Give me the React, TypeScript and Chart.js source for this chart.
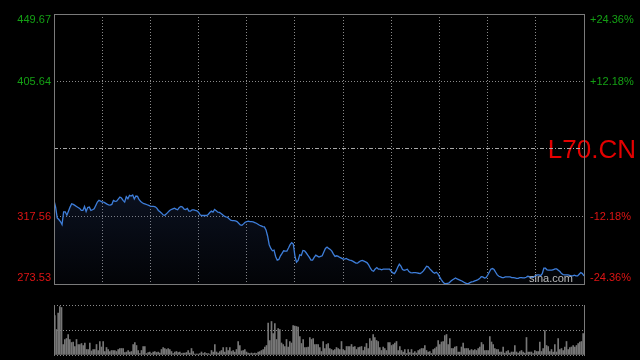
import React, { useEffect, useRef } from 'react';
import { Chart, registerables } from 'chart.js';

Chart.register(...registerables);

const prevClose = 361.6;
const priceTicks = [273.53, 317.56, 361.6, 405.64, 449.67];
const priceLabels = ['273.53', '317.56', '', '405.64', '449.67'];
const pctLabels = ['-24.36%', '-12.18%', '', '+12.18%', '+24.36%'];
const timeTicks = [0, 30, 60, 90, 120, 150, 180, 210, 240, 270, 300, 330];
const volumeTicks = [0, 50, 100];

// one price per trading minute (330 minutes)
const prices = [
  328.07, 323.69, 316.68, 315.59, 314.27, 312.3, 320.62, 320.62, 318.43, 321.06,
  323.69, 325.88, 325.44, 324.79, 324.13, 323.47, 322.81, 321.5, 321.5, 324.13,
  320.84, 323.47, 323.69, 321.5, 321.94, 322.6, 324.79, 326.97, 328.07, 327.63,
  326.97, 326.97, 326.32, 325.66, 325.22, 325.0, 325.44, 328.07, 327.41, 327.63,
  328.95, 330.26, 329.6, 328.07, 326.97, 330.48, 329.17, 331.36, 330.92, 331.57,
  328.95, 330.92, 330.7, 328.51, 327.41, 326.54, 325.88, 325.66, 325.22, 324.79,
  324.35, 324.13, 324.13, 323.91, 323.03, 321.5, 320.62, 319.75, 318.65, 318.43,
  319.31, 320.41, 321.5, 322.16, 322.6, 323.03, 322.38, 321.94, 323.47, 324.13,
  323.69, 322.38, 322.16, 322.81, 321.06, 321.06, 321.94, 321.94, 321.5, 321.28,
  320.41, 318.65, 318.22, 318.22, 318.22, 318.22, 318.87, 320.19, 321.06, 320.41,
  322.16, 321.28, 320.41, 320.19, 319.53, 318.65, 317.78, 317.34, 317.12, 316.03,
  315.15, 314.93, 314.93, 314.71, 314.27, 313.18, 312.08, 311.86, 312.74, 313.84,
  314.27, 314.49, 314.27, 314.27, 314.05, 313.62, 313.18, 312.52, 311.86, 311.43,
  310.99, 310.77, 308.8, 304.86, 299.16, 296.75, 295.22, 295.66, 291.5, 289.09,
  289.53, 291.93, 293.47, 295.22, 295.0, 295.0, 296.97, 299.16, 300.48, 299.6,
  291.93, 287.77, 288.87, 292.59, 292.15, 295.44, 295.22, 293.91, 292.37, 290.84,
  289.09, 289.09, 290.84, 292.37, 291.72, 291.06, 291.5, 291.93, 294.34, 296.75,
  297.63, 296.75, 296.1, 295.0, 293.03, 291.5, 291.93, 291.5, 290.84, 290.4,
  289.75, 289.75, 290.18, 289.53, 289.09, 288.87, 288.43, 287.77, 287.12, 287.12,
  287.99, 288.65, 288.87, 288.43, 287.99, 287.34, 285.8, 283.83, 282.3, 281.86,
  283.39, 284.27, 283.17, 283.17, 282.74, 283.17, 283.17, 283.17, 283.17, 283.17,
  281.86, 280.77, 280.33, 282.08, 284.49, 286.46, 285.15, 282.96, 282.52, 282.74,
  283.17, 281.64, 280.99, 280.77, 280.99, 280.99, 280.77, 280.55, 280.33, 280.99,
  282.08, 283.61, 285.15, 284.71, 283.39, 282.3, 281.2, 280.55, 281.2, 280.33,
  278.36, 276.61, 275.07, 273.98, 273.76, 273.98, 274.2, 275.29, 276.17, 276.82,
  277.48, 276.82, 276.39, 275.95, 275.51, 274.85, 274.2, 273.76, 273.76, 274.42,
  274.85, 275.07, 275.51, 275.95, 276.39, 277.04, 278.36, 278.14, 277.48, 277.7,
  279.23, 281.2, 283.17, 283.61, 282.96, 281.2, 279.45, 278.58, 278.14, 277.7,
  277.7, 278.14, 278.14, 278.14, 278.14, 277.7, 277.7, 277.48, 277.26, 277.26,
  277.7, 277.7, 277.48, 277.48, 277.92, 278.58, 278.36, 277.92, 277.92, 278.36,
  279.01, 279.45, 279.45, 279.01, 280.33, 283.83, 283.83, 282.74, 282.52, 282.52,
  282.52, 282.96, 283.39, 283.39, 282.52, 281.64, 280.33, 279.67, 279.45, 279.45,
  279.45, 279.23, 278.8, 278.8, 279.23, 278.8, 278.8, 279.89, 280.99, 280.33, 278.8,
];

// volume bars, relative to panel maximum (100)
const volumes = [
  79, 51, 84, 97, 95, 21, 31, 33, 41, 31, 25, 26, 17, 31, 21, 21, 23, 19, 24, 11,
  11, 24, 8, 11, 11, 21, 9, 27, 16, 27, 7, 15, 11, 7, 9, 9, 9, 7, 11, 13,
  13, 13, 5, 6, 9, 6, 7, 21, 25, 19, 9, 3, 9, 17, 17, 3, 5, 6, 3, 6,
  7, 5, 6, 4, 11, 15, 13, 11, 13, 11, 7, 3, 6, 7, 5, 6, 3, 4, 4, 5,
  9, 4, 13, 7, 2, 2, 2, 3, 6, 3, 5, 3, 3, 2, 9, 6, 21, 6, 4,
  7, 9, 15, 6, 15, 9, 15, 7, 9, 6, 11, 27, 19, 8, 9, 11, 6, 4, 3, 4,
  3, 4, 3, 6, 7, 9, 11, 16, 19, 64, 29, 67, 43, 63, 31, 53, 51, 24, 21, 17,
  31, 16, 27, 24, 59, 58, 57, 56, 37, 23, 31, 15, 15, 16, 35, 31, 33, 21, 21, 21,
  15, 7, 27, 13, 21, 23, 13, 11, 9, 11, 15, 13, 11, 27, 11, 9, 17, 17, 17, 21,
  16, 17, 11, 15, 16, 17, 9, 16, 23, 13, 33, 28, 41, 35, 29, 27, 15, 9, 16, 13,
  9, 25, 25, 19, 21, 24, 27, 9, 17, 9, 6, 11, 3, 11, 5, 11, 4, 7, 4, 9,
  11, 13, 13, 19, 9, 6, 7, 3, 11, 13, 16, 29, 21, 26, 27, 39, 41, 21, 33, 13,
  13, 16, 17, 6, 6, 16, 24, 13, 13, 13, 9, 11, 9, 11, 9, 13, 16, 25, 21, 9,
  9, 9, 37, 26, 21, 13, 11, 11, 6, 6, 16, 4, 7, 9, 4, 6, 6, 19, 6, 4,
  7, 9, 6, 4, 35, 6, 6, 6, 3, 9, 7, 7, 26, 7, 13, 49, 19, 17, 7, 11,
  6, 21, 6, 33, 11, 13, 9, 16, 27, 11, 15, 16, 19, 16, 19, 23, 26, 27, 43,
];

const GREEN = 'rgb(20,160,20)';
const RED = 'rgb(222,20,20)';
const GRID = '#8a8a8a';
const FRAME = '#7a7a7a';
const FONT = '"Liberation Sans", Arial, sans-serif';

const framePlugin = {
  id: 'frame',
  afterDatasetsDraw(chart: any) {
    const { ctx, chartArea } = chart;
    const { left, right, top, bottom } = chartArea;
    ctx.save();
    ctx.strokeStyle = FRAME;
    ctx.lineWidth = 1;
    ctx.strokeRect(Math.round(left) + 0.5, Math.round(top) + 0.5, Math.round(right - left), Math.round(bottom - top));
    ctx.restore();
  },
};

const sidePlugin = {
  id: 'sideLabels',
  beforeDraw(chart: any) {
    const { ctx, scales } = chart;
    const py = scales.y.getPixelForValue(prevClose);
    ctx.save();
    ctx.font = '26px ' + FONT;
    ctx.fillStyle = 'rgb(228,0,0)';
    ctx.textAlign = 'right';
    ctx.textBaseline = 'alphabetic';
    ctx.fillText('L70.CN', chart.width - 4, py + 9);
    ctx.restore();
  },
  afterDraw(chart: any) {
    const { ctx, chartArea, scales } = chart;
    const { left, right, top, bottom } = chartArea;
    ctx.save();
    ctx.font = '11px ' + FONT;
    ctx.textBaseline = 'middle';
    priceTicks.forEach((v, i) => {
      if (!priceLabels[i]) return;
      let py = scales.y.getPixelForValue(v);
      py = Math.min(Math.max(py, top + 6), bottom - 6);
      ctx.fillStyle = v > prevClose ? GREEN : RED;
      ctx.textAlign = 'right';
      ctx.fillText(priceLabels[i], left - 3, py);
      ctx.textAlign = 'left';
      ctx.fillText(pctLabels[i], right + 6, py);
    });
    ctx.font = '11px ' + FONT;
    ctx.fillStyle = 'rgba(205,205,205,0.9)';
    ctx.textAlign = 'right';
    ctx.textBaseline = 'alphabetic';
    ctx.fillText('sina.com', right - 11, bottom - 2);
    ctx.restore();
  },
};

const volFramePlugin = {
  id: 'volFrame',
  afterDatasetsDraw(chart: any) {
    const { ctx, chartArea } = chart;
    const { left, right, top, bottom } = chartArea;
    ctx.save();
    ctx.strokeStyle = FRAME;
    ctx.lineWidth = 1;
    ctx.beginPath();
    ctx.moveTo(Math.round(left) + 0.5, Math.round(top));
    ctx.lineTo(Math.round(left) + 0.5, Math.round(bottom) + 1);
    ctx.moveTo(Math.round(right) + 0.5, Math.round(top));
    ctx.lineTo(Math.round(right) + 0.5, Math.round(bottom) + 1);
    ctx.stroke();
    ctx.restore();
  },
};

export default function App() {
  const priceRef = useRef<HTMLCanvasElement>(null);
  const volRef = useRef<HTMLCanvasElement>(null);

  useEffect(() => {
    const priceChart = new Chart(priceRef.current as HTMLCanvasElement, {
      type: 'line',
      data: {
        datasets: [
          {
            data: prices.map((p, i) => ({ x: i, y: p })),
            borderColor: 'rgb(62,126,218)',
            borderWidth: 1.3,
            pointRadius: 0,
            tension: 0,
            fill: 'start',
            backgroundColor: (c: any) => {
              const { chart } = c;
              const area = chart.chartArea;
              if (!area) return 'rgba(0,0,0,0)';
              const y0 = chart.scales.y.getPixelForValue(333);
              const g = chart.ctx.createLinearGradient(0, y0, 0, area.bottom);
              g.addColorStop(0, 'rgba(45,70,130,0.24)');
              g.addColorStop(1, 'rgba(45,70,130,0.05)');
              return g;
            },
          },
        ],
      },
      options: {
        responsive: false,
        devicePixelRatio: 1,
        animation: false,
        layout: { padding: { left: 54, right: 56, top: 14, bottom: 76 } },
        plugins: { legend: { display: false }, tooltip: { enabled: false } },
        scales: {
          x: {
            type: 'linear',
            min: 0,
            max: 330,
            afterBuildTicks: (s: any) => {
              s.ticks = timeTicks.map((v) => ({ value: v }));
            },
            ticks: { display: false },
            grid: {
              drawTicks: false,
              color: (c: any) =>
                c.index === 0 || c.index === timeTicks.length - 1 ? 'rgba(0,0,0,0)' : GRID,
            },
            border: { display: false, dash: [1, 2] },
          },
          y: {
            type: 'linear',
            min: priceTicks[0],
            max: priceTicks[priceTicks.length - 1],
            afterBuildTicks: (s: any) => {
              s.ticks = priceTicks.map((v) => ({ value: v }));
            },
            ticks: { display: false },
            grid: {
              drawTicks: false,
              color: (c: any) => {
                if (c.index === 0 || c.index === priceTicks.length - 1) return 'rgba(0,0,0,0)';
                if (c.tick && c.tick.value === prevClose) return '#a8a8a8';
                return GRID;
              },
            },
            border: {
              display: false,
              dash: (c: any) => (c.tick && c.tick.value === prevClose ? [4, 2, 1, 2] : [1, 2]),
            },
          },
        },
      },
      plugins: [sidePlugin, framePlugin],
    } as any);

    const volChart = new Chart(volRef.current as HTMLCanvasElement, {
      type: 'bar',
      data: {
        labels: volumes.map((_, i) => String(i)),
        datasets: [
          {
            data: volumes,
            backgroundColor: 'rgb(118,118,118)',
            barThickness: 1,
          },
        ],
      },
      options: {
        responsive: false,
        devicePixelRatio: 1,
        animation: false,
        layout: { padding: { left: 54, right: 56, top: 305, bottom: 5 } },
        plugins: { legend: { display: false }, tooltip: { enabled: false } },
        scales: {
          x: {
            type: 'category',
            ticks: { display: false },
            grid: { display: false, drawTicks: false },
            border: { display: false },
          },
          y: {
            type: 'linear',
            min: 0,
            max: 100,
            afterBuildTicks: (s: any) => {
              s.ticks = volumeTicks.map((v) => ({ value: v }));
            },
            ticks: { display: false },
            grid: { drawTicks: false, color: GRID },
            border: { display: false, dash: [1, 2] },
          },
        },
      },
      plugins: [volFramePlugin],
    } as any);

    return () => {
      priceChart.destroy();
      volChart.destroy();
    };
  }, []);

  return (
    <div style={{ position: 'fixed', left: 0, top: 0, width: 640, height: 360, background: '#000', overflow: 'hidden' }}>
      <canvas ref={priceRef} width={640} height={360} style={{ position: 'absolute', left: 0, top: 0 }} />
      <canvas ref={volRef} width={640} height={360} style={{ position: 'absolute', left: 0, top: 0 }} />
    </div>
  );
}
